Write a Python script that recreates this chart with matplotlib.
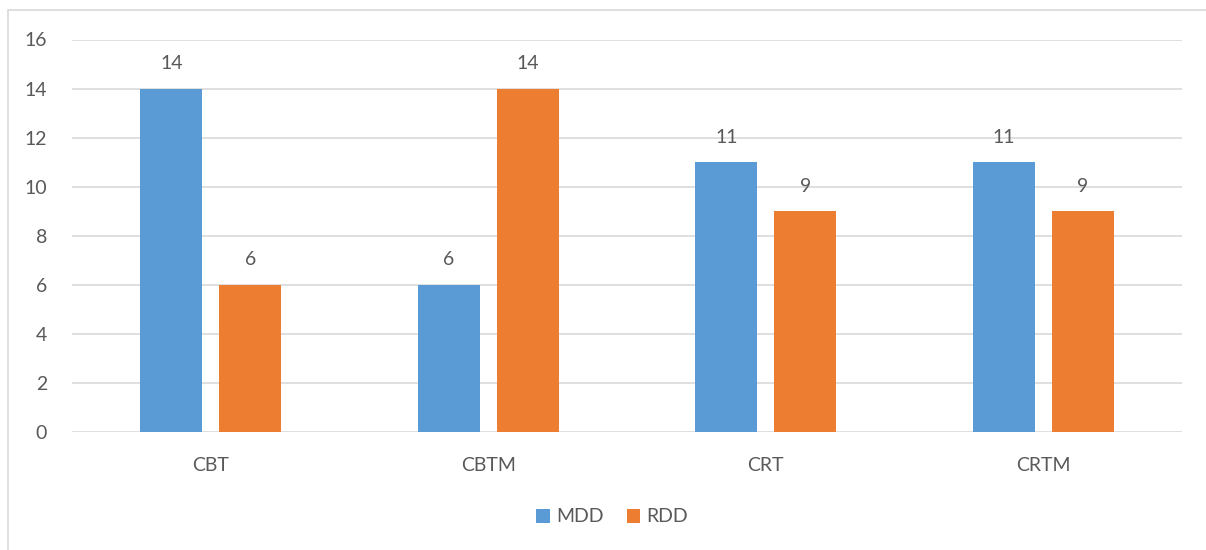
import matplotlib.pyplot as plt
import numpy as np
from matplotlib.patches import Rectangle

categories = ["CBT", "CBTM", "CRT", "CRTM"]
mdd = [14, 6, 11, 11]
rdd = [6, 14, 9, 9]

plt.rcParams['font.family'] = ['Lato', 'DejaVu Sans']
txt = "#595959"

fig = plt.figure(figsize=(12.06, 5.5), dpi=100)
# chart border like the excel frame
fig.patches.append(Rectangle((8 / 1206, -0.01), 1.1, 1 - 10 / 550 + 0.01,
                             transform=fig.transFigure, fill=False,
                             edgecolor="#D9D9D9", linewidth=1.2))
ax = fig.add_axes([72 / 1206, 1 - 432 / 550, 1110 / 1206, (432 - 39.5) / 550])

x = np.arange(len(categories))
w = 0.223
off = 0.142
b1 = ax.bar(x - off, mdd, w, color="#5B9BD5", label="MDD", zorder=3)
b2 = ax.bar(x + off, rdd, w, color="#ED7D31", label="RDD", zorder=3)

for bars in (b1, b2):
    for b in bars:
        ax.annotate(str(int(b.get_height())), (b.get_x() + b.get_width() / 2, b.get_height()),
                    xytext=(0, 18), textcoords="offset points", ha="center", va="center",
                    fontsize=14, color=txt)

ax.set_xlim(-0.5, 3.5)
ax.set_ylim(0, 16)
ax.set_yticks(range(0, 17, 2))
ax.set_xticks(x)
ax.set_xticklabels(categories)
ax.tick_params(axis="both", length=0, labelsize=14, labelcolor=txt)
ax.tick_params(axis="x", pad=18)
ax.tick_params(axis="y", pad=18)
ax.grid(axis="y", color="#D9D9D9", linewidth=1.2, zorder=0)
for s in ax.spines.values():
    s.set_visible(False)

fig.legend(handles=[b1, b2], loc="center", bbox_to_anchor=(612 / 1206, 1 - 517 / 550),
           ncol=2, frameon=False, fontsize=14, labelcolor=txt, handlelength=0.7,
           handleheight=0.7, handletextpad=0.3, columnspacing=1.2)

fig.savefig("out.png", dpi=100)
